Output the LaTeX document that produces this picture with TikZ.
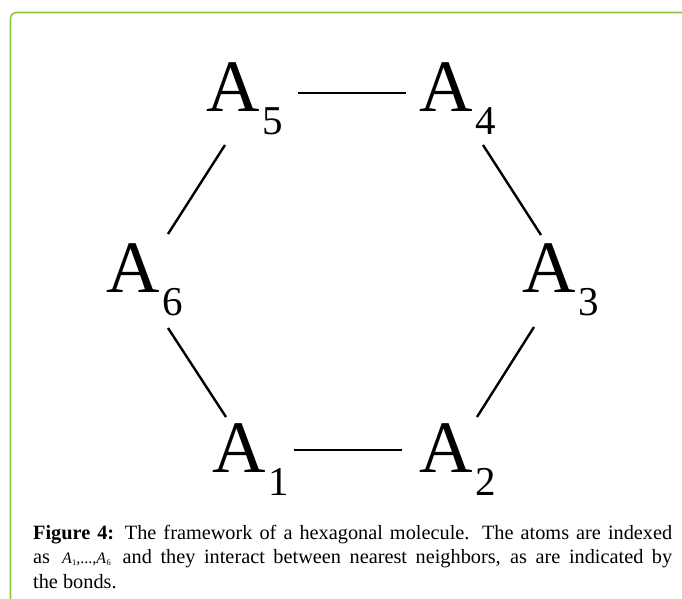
\documentclass[tikz,border=0pt]{standalone}
\usepackage{fontspec}
\setmainfont{Liberation Serif}
\definecolor{framegreen}{RGB}{141,198,63}
\newcommand{\atomsub}[1]{\kern3pt\raisebox{-23pt}{\fontsize{41}{41}\selectfont #1}}
\newcommand{\capatom}[1]{\textit{A}\kern0.3pt\raisebox{-2pt}{\fontsize{8.5}{8.5}\selectfont #1}}
\begin{document}
\begin{tikzpicture}[x=1pt,y=-1pt,
  atom/.style={anchor=base west,inner sep=0pt,outer sep=0pt,font=\fontsize{74}{74}\selectfont},
  bond/.style={line width=2.4pt},
  frame/.style={draw=framegreen,line width=1.6pt,rounded corners=6pt},
  caption/.style={anchor=base west,inner sep=0pt,text width=639pt,align=justify,
    font=\fontsize{20.3}{24.5}\selectfont}]
\useasboundingbox (0,0) rectangle (682,599);
\draw[frame] (10.5,610) -- (10.5,12.5) -- (690,12.5);
% atoms
\node[atom] (a5) at (206,112) {A\atomsub{5}};
\node[atom] (a4) at (419,112) {A\atomsub{4}};
\node[atom] (a6) at (106,292) {A\atomsub{6}};
\node[atom] (a3) at (522,292) {A\atomsub{3}};
\node[atom] (a1) at (212,472) {A\atomsub{1}};
\node[atom] (a2) at (419,472) {A\atomsub{2}};
% bond ends
\coordinate (b54s) at (298,93);  \coordinate (b54e) at (406,93);
\coordinate (b56s) at (225,145); \coordinate (b56e) at (168,234);
\coordinate (b43s) at (483,145); \coordinate (b43e) at (541,235);
\coordinate (b61s) at (168,328); \coordinate (b61e) at (226,417);
\coordinate (b32s) at (534,327); \coordinate (b32e) at (477,417);
\coordinate (b12s) at (294,450); \coordinate (b12e) at (402,450);
\draw[bond] (b54s) -- (b54e);
\draw[bond] (b56s) -- (b56e);
\draw[bond] (b43s) -- (b43e);
\draw[bond] (b61s) -- (b61e);
\draw[bond] (b32s) -- (b32e);
\draw[bond] (b12s) -- (b12e);
% caption
\node[caption] (cap) at (33,539) {\textbf{Figure 4:} The framework of a hexagonal molecule. The atoms are indexed\linebreak
as \,{\fontsize{16}{16}\selectfont\capatom{1},...,\capatom{6}}\, and they interact between nearest neighbors, as are indicated by\linebreak
the bonds.};
\end{tikzpicture}
\end{document}
